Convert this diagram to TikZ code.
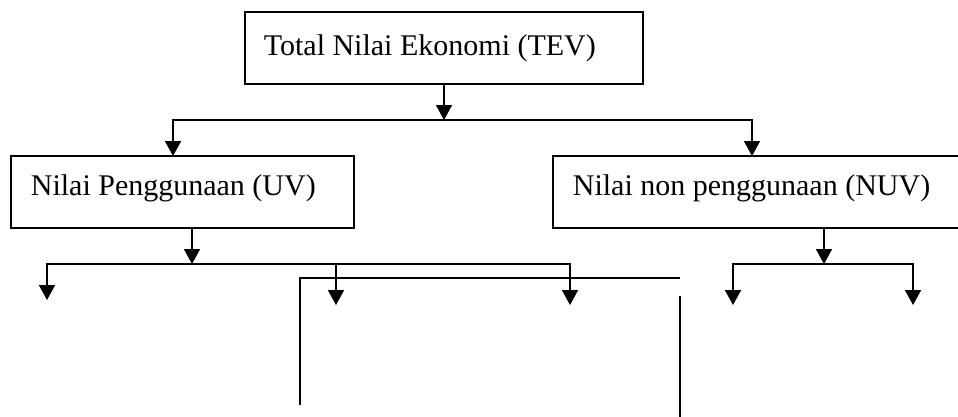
\documentclass[tikz,border=0pt]{standalone}
\usepackage{fontspec}
\setmainfont{Liberation Serif}
\usetikzlibrary{arrows.meta}
\begin{document}
\begin{tikzpicture}[x=1pt,y=-1pt, line width=1.7pt,
  box/.style={draw, rectangle, inner sep=0pt, outer sep=0pt, anchor=north west, minimum height=72pt},
  lbl/.style={anchor=base west, inner sep=0pt, font=\fontsize{30}{36}\selectfont},
  arr/.style={-{Triangle[width=16pt,length=15pt]}}]
\useasboundingbox (0,0) rectangle (958,416);
\clip (0,0) rectangle (958,416);
% boxes
\node[box, minimum width=398pt] (tev) at (245,12) {};
\node[box, minimum width=343pt] (uv) at (11,156) {};
\node[box, minimum width=420pt] (nuv) at (553,156) {};
% labels
\node[lbl] (tevt) at (263,55) {Total Nilai Ekonomi (TEV)};
\node[lbl] (uvt) at (30,195) {Nilai Penggunaan (UV)};
\node[lbl] (nuvt) at (572,195) {Nilai non penggunaan (NUV)};
% level 1
\coordinate (j1) at (444,120);
\coordinate (uvin) at (173,156);
\coordinate (nuvin) at (752,156);
\draw[arr] (tev.south -| j1) -- (j1);
\draw[arr] (j1) -| (uvin);
\draw[arr] (j1) -| (nuvin);
% UV children
\coordinate (j2) at (192,264);
\coordinate (a1) at (47,300);
\coordinate (m2) at (336,264);
\coordinate (a2) at (336,305);
\coordinate (a3) at (570,305);
\draw[arr] (uv.south -| j2) -- (j2);
\draw[arr] (j2) -| (a1);
\draw[arr] (j2) -| (a3);
\draw[arr] (m2) -- (a2);
% NUV children
\coordinate (j3) at (824,264);
\coordinate (b1) at (733,305);
\coordinate (b2) at (913,305);
\draw[arr] (nuv.south -| j3) -- (j3);
\draw[arr] (j3) -| (b1);
\draw[arr] (j3) -| (b2);
% stray lines
\coordinate (p1) at (300,405);
\coordinate (p2) at (300,278);
\coordinate (p3) at (680,278);
\draw (p1) -- (p2) -- (p3);
\coordinate (q1) at (680,296);
\coordinate (q2) at (680,420);
\draw (q1) -- (q2);
\end{tikzpicture}
\end{document}
